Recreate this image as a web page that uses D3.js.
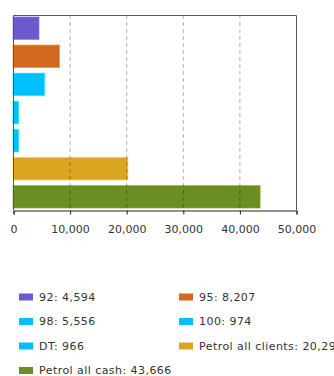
<!DOCTYPE html>
<html>
<head>
<meta charset="utf-8">
<script src="https://cdn.jsdelivr.net/npm/d3@7"></script>
<style>
  html, body { margin: 0; padding: 0; background: #fff; }
  svg { display: block; }
  text { font-family: "DejaVu Sans", Verdana, sans-serif; font-size: 11px; fill: #333; }
</style>
</head>
<body>
<svg id="chart" width="334" height="376"></svg>
<script>
// Fuel sales by product
const categories = ["92", "95", "98", "100", "DT", "Petrol all clients", "Petrol all cash"];
const values = [4594, 8207, 5556, 974, 966, 20293, 43666];
const colors = ["#6a5acd", "#d2691e", "#00bfff", "#00bfff", "#00bfff", "#daa520", "#6b8e23"];
const tickValues = [0, 10000, 20000, 30000, 40000, 50000];

const svg = d3.select("#chart");
const plot = { left: 13, right: 296, top: 15, bottom: 210 };

const x = d3.scaleLinear().domain([0, 50000]).range([plot.left, plot.right]);
const y = d3.scaleBand().domain(categories).range([plot.top, plot.bottom])
  .paddingInner(0.2).paddingOuter(0.07);

// bars
svg.append("g").selectAll("rect")
  .data(values)
  .join("rect")
  .attr("x", x(0))
  .attr("y", (d, i) => y(categories[i]))
  .attr("width", d => x(d) - x(0))
  .attr("height", y.bandwidth())
  .attr("fill", (d, i) => colors[i])
  .attr("stroke", (d, i) => d3.color(colors[i]).brighter(0.6))
  .attr("stroke-opacity", 0.6)
  .attr("stroke-width", 1);

// dashed vertical gridlines, drawn over the bars
svg.append("g").selectAll("line")
  .data(tickValues.slice(1, -1))
  .join("line")
  .attr("x1", d => x(d) + 0.5).attr("x2", d => x(d) + 0.5)
  .attr("y1", plot.top).attr("y2", plot.bottom)
  .attr("stroke", "rgba(0,0,0,0.3)").attr("stroke-width", 1)
  .attr("stroke-dasharray", "4,3");

// frame: top, right, left
svg.append("path")
  .attr("d", `M${plot.left + 0.5},${plot.bottom}V${plot.top + 0.5}H${plot.right + 0.5}V${plot.bottom}`)
  .attr("fill", "none").attr("stroke", "#555").attr("stroke-width", 1);

// bottom axis
const axis = d3.axisBottom(x).tickValues(tickValues).tickSize(4).tickPadding(11)
  .tickFormat(d3.format(","));
const gx = svg.append("g").attr("transform", `translate(0.5,${plot.bottom + 0.5})`).call(axis);
gx.select(".domain").attr("stroke", "#222");
gx.selectAll(".tick line").attr("stroke", "#222");
gx.selectAll(".tick text").attr("fill", "#333")
  .style("font-family", '"DejaVu Sans", Verdana, sans-serif').style("font-size", "11px");

// legend, two columns
const legendCols = [19, 179];
const legendRows = [297, 321.5, 346, 370.5];
const legend = svg.append("g").selectAll("g")
  .data(categories)
  .join("g")
  .attr("transform", (d, i) => `translate(${legendCols[i % 2]},${legendRows[Math.floor(i / 2)]})`);
legend.append("rect")
  .attr("x", 0).attr("y", -3.5).attr("width", 14).attr("height", 7)
  .attr("fill", (d, i) => colors[i]);
legend.append("text")
  .attr("x", 20).attr("y", 0).attr("dy", "0.35em")
  .style("letter-spacing", "0.45px")
  .text((d, i) => `${d}: ${d3.format(",")(values[i])}`);
</script>
</body>
</html>
